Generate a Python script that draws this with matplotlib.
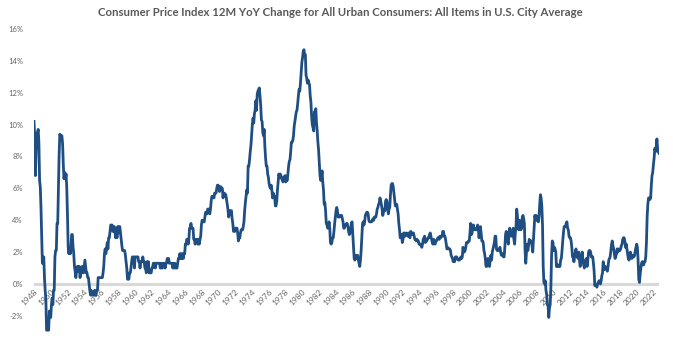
import numpy as np
import matplotlib
matplotlib.use("Agg")
import matplotlib.pyplot as plt

# CPI-U, 12M YoY % change, monthly from Jan 1948
start_year = 1948
cpi_yoy = [
    # 1948
    10.2, 9.3, 6.8, 8.3, 9.4, 9.5, 9.7, 8.9, 6.5, 6.1, 4.8, 3.0,
    # 1949
    1.3, 1.3, 1.7, 0.4, -0.4, -0.9, -2.9, -2.9, -2.4, -2.9, -1.7, -2.1,
    # 1950
    -2.1, -1.3, -0.9, -1.3, -0.4, -0.4, 1.7, 2.1, 2.1, 3.8, 3.8, 5.9,
    # 1951
    8.1, 9.4, 9.3, 9.3, 9.3, 8.8, 7.5, 6.6, 7.0, 6.6, 6.9, 6.0,
    # 1952
    4.3, 2.3, 1.9, 2.3, 1.9, 2.3, 3.1, 3.1, 2.3, 1.9, 1.1, 0.8,
    # 1953
    0.4, 0.8, 1.1, 0.8, 1.1, 1.1, 0.4, 0.7, 0.7, 1.1, 0.7, 0.7,
    # 1954
    1.1, 1.5, 1.1, 0.7, 0.7, 0.4, 0.4, 0.0, -0.4, -0.7, -0.4, -0.7,
    # 1955
    -0.7, -0.7, -0.7, -0.4, -0.7, -0.7, -0.4, -0.4, 0.4, 0.4, 0.4, 0.4,
    # 1956
    0.4, 0.4, 0.4, 0.7, 1.1, 1.9, 2.2, 1.9, 2.2, 2.6, 2.2, 2.9,
    # 1957
    2.9, 3.3, 3.7, 3.7, 3.7, 3.3, 3.3, 3.6, 3.3, 2.9, 3.3, 2.9,
    # 1958
    3.6, 3.2, 3.6, 3.6, 3.2, 2.8, 2.4, 2.1, 2.1, 2.1, 2.1, 1.8,
    # 1959
    1.4, 1.0, 0.3, 0.3, 0.3, 0.7, 0.7, 1.0, 1.4, 1.7, 1.4, 1.7,
    # 1960
    1.0, 1.7, 1.7, 1.7, 1.7, 1.7, 1.4, 1.4, 1.0, 1.4, 1.4, 1.4,
    # 1961
    1.7, 1.4, 1.4, 1.0, 1.0, 0.7, 1.4, 1.0, 1.4, 0.7, 0.7, 0.7,
    # 1962
    0.7, 1.0, 1.0, 1.3, 1.3, 1.3, 1.0, 1.3, 1.3, 1.3, 1.3, 1.3,
    # 1963
    1.3, 1.0, 1.3, 1.0, 1.0, 1.3, 1.3, 1.3, 1.0, 1.3, 1.3, 1.6,
    # 1964
    1.6, 1.6, 1.3, 1.3, 1.3, 1.3, 1.3, 1.0, 1.3, 1.0, 1.3, 1.0,
    # 1965
    1.0, 1.0, 1.3, 1.6, 1.6, 1.9, 1.6, 1.9, 1.6, 1.9, 1.6, 1.9,
    # 1966
    1.9, 2.5, 2.5, 2.8, 2.8, 2.5, 2.8, 3.5, 3.5, 3.8, 3.5, 3.5,
    # 1967
    3.5, 2.8, 2.8, 2.5, 2.8, 2.8, 2.8, 2.5, 2.8, 2.5, 2.8, 3.0,
    # 1968
    3.7, 4.0, 3.9, 3.9, 3.9, 4.2, 4.5, 4.5, 4.4, 4.7, 4.7, 4.7,
    # 1969
    4.4, 4.7, 5.2, 5.5, 5.5, 5.5, 5.4, 5.7, 5.7, 5.7, 6.0, 6.2,
    # 1970
    6.2, 6.1, 5.8, 6.1, 6.1, 6.0, 6.0, 5.4, 5.7, 5.7, 5.6, 5.6,
    # 1971
    5.3, 5.0, 4.7, 4.2, 4.4, 4.6, 4.4, 4.6, 4.1, 3.8, 3.3, 3.3,
    # 1972
    3.3, 3.5, 3.5, 3.5, 3.2, 2.7, 2.9, 2.9, 3.2, 3.4, 3.4, 3.4,
    # 1973
    3.6, 3.9, 4.6, 5.1, 5.5, 5.9, 5.7, 7.4, 7.4, 7.8, 8.3, 8.7,
    # 1974
    9.4, 10.0, 10.4, 10.1, 10.7, 10.9, 11.5, 10.9, 11.9, 12.1, 12.2, 12.3,
    # 1975
    11.8, 11.2, 10.3, 10.2, 9.5, 9.3, 9.7, 8.6, 7.9, 7.4, 7.4, 6.9,
    # 1976
    6.7, 6.3, 6.1, 6.0, 6.2, 5.9, 5.4, 5.7, 5.5, 5.5, 4.9, 4.9,
    # 1977
    5.2, 5.9, 6.4, 6.9, 6.7, 6.9, 6.8, 6.6, 6.6, 6.4, 6.7, 6.7,
    # 1978
    6.8, 6.4, 6.6, 6.5, 6.9, 7.4, 7.7, 7.8, 8.3, 8.9, 8.9, 9.0,
    # 1979
    9.3, 9.9, 10.2, 10.5, 10.8, 10.9, 11.3, 11.8, 12.2, 12.1, 12.6, 13.3,
    # 1980
    13.9, 14.2, 14.6, 14.7, 14.4, 14.4, 13.1, 12.9, 12.6, 12.8, 12.6, 12.5,
    # 1981
    11.8, 11.4, 10.5, 10.0, 9.8, 9.6, 10.8, 10.8, 11.0, 10.1, 9.6, 8.9,
    # 1982
    8.4, 7.6, 6.8, 6.5, 6.7, 7.1, 6.4, 5.9, 5.0, 5.1, 4.6, 3.8,
    # 1983
    3.7, 3.5, 3.6, 3.9, 3.5, 2.6, 2.5, 2.6, 2.9, 2.9, 3.3, 3.8,
    # 1984
    4.2, 4.6, 4.8, 4.6, 4.2, 4.2, 4.2, 4.3, 4.3, 4.3, 4.1, 3.9,
    # 1985
    3.5, 3.5, 3.7, 3.7, 3.8, 3.8, 3.6, 3.3, 3.1, 3.2, 3.5, 3.8,
    # 1986
    3.9, 3.1, 2.2, 1.6, 1.5, 1.8, 1.6, 1.6, 1.8, 1.5, 1.3, 1.1,
    # 1987
    1.5, 2.1, 3.0, 3.8, 3.9, 3.7, 3.9, 4.3, 4.4, 4.5, 4.5, 4.4,
    # 1988
    4.0, 3.9, 3.9, 3.9, 3.9, 4.0, 4.1, 4.0, 4.2, 4.2, 4.2, 4.4,
    # 1989
    4.7, 4.8, 5.0, 5.1, 5.4, 5.2, 5.0, 4.7, 4.3, 4.5, 4.7, 4.6,
    # 1990
    5.2, 5.3, 5.2, 4.7, 4.4, 4.7, 4.8, 5.6, 6.2, 6.3, 6.3, 6.1,
    # 1991
    5.7, 5.3, 4.9, 4.9, 5.0, 4.7, 4.4, 3.8, 3.4, 2.9, 3.0, 3.1,
    # 1992
    2.6, 2.8, 3.2, 3.2, 3.0, 3.1, 3.2, 3.1, 3.0, 3.2, 3.0, 2.9,
    # 1993
    3.3, 3.2, 3.1, 3.2, 3.2, 3.0, 2.8, 2.8, 2.7, 2.8, 2.7, 2.7,
    # 1994
    2.5, 2.5, 2.5, 2.4, 2.3, 2.5, 2.8, 2.9, 3.0, 2.6, 2.7, 2.7,
    # 1995
    2.8, 2.9, 2.9, 3.1, 3.2, 3.0, 2.8, 2.6, 2.5, 2.8, 2.6, 2.5,
    # 1996
    2.7, 2.7, 2.8, 2.9, 2.9, 2.8, 3.0, 2.9, 3.0, 3.0, 3.3, 3.3,
    # 1997
    3.0, 3.0, 2.8, 2.5, 2.2, 2.3, 2.2, 2.2, 2.2, 2.1, 1.8, 1.7,
    # 1998
    1.6, 1.4, 1.4, 1.4, 1.7, 1.7, 1.7, 1.6, 1.5, 1.5, 1.5, 1.6,
    # 1999
    1.7, 1.6, 1.7, 2.3, 2.1, 2.0, 2.1, 2.3, 2.6, 2.6, 2.6, 2.7,
    # 2000
    2.7, 3.2, 3.8, 3.1, 3.2, 3.7, 3.7, 3.4, 3.5, 3.4, 3.4, 3.4,
    # 2001
    3.7, 3.5, 2.9, 3.3, 3.6, 3.2, 2.7, 2.7, 2.6, 2.1, 1.9, 1.6,
    # 2002
    1.1, 1.1, 1.5, 1.6, 1.2, 1.1, 1.5, 1.8, 1.5, 2.0, 2.2, 2.4,
    # 2003
    2.6, 3.0, 3.0, 2.2, 2.1, 2.1, 2.1, 2.2, 2.3, 2.0, 1.8, 1.9,
    # 2004
    1.9, 1.7, 1.7, 2.3, 3.1, 3.3, 3.0, 2.7, 2.5, 3.2, 3.5, 3.3,
    # 2005
    3.0, 3.0, 3.1, 3.5, 2.8, 2.5, 3.2, 3.6, 4.7, 4.3, 3.5, 3.4,
    # 2006
    4.0, 3.6, 3.4, 3.5, 4.2, 4.3, 4.1, 3.8, 2.1, 1.3, 2.0, 2.5,
    # 2007
    2.1, 2.4, 2.8, 2.6, 2.7, 2.7, 2.4, 2.0, 2.8, 3.5, 4.3, 4.1,
    # 2008
    4.3, 4.0, 4.0, 3.9, 4.2, 5.0, 5.6, 5.4, 4.9, 3.7, 1.1, 0.1,
    # 2009
    0.0, 0.2, -0.4, -0.7, -1.3, -1.4, -2.1, -1.5, -1.3, -0.2, 1.8, 2.7,
    # 2010
    2.6, 2.1, 2.3, 2.2, 2.0, 1.1, 1.2, 1.1, 1.1, 1.2, 1.1, 1.5,
    # 2011
    1.6, 2.1, 2.7, 3.2, 3.6, 3.6, 3.6, 3.8, 3.9, 3.5, 3.4, 3.0,
    # 2012
    2.9, 2.9, 2.7, 2.3, 1.7, 1.7, 1.4, 1.7, 2.0, 2.2, 1.8, 1.7,
    # 2013
    1.6, 2.0, 1.5, 1.1, 1.4, 1.8, 2.0, 1.5, 1.2, 1.0, 1.2, 1.5,
    # 2014
    1.6, 1.1, 1.5, 2.0, 2.1, 2.1, 2.0, 1.7, 1.7, 1.7, 1.3, 0.8,
    # 2015
    -0.1, 0.0, -0.1, -0.2, 0.0, 0.1, 0.2, 0.2, 0.0, 0.2, 0.5, 0.7,
    # 2016
    1.4, 1.0, 0.9, 1.1, 1.0, 1.0, 0.8, 1.1, 1.5, 1.6, 1.7, 2.1,
    # 2017
    2.5, 2.7, 2.4, 2.2, 1.9, 1.6, 1.7, 1.9, 2.2, 2.0, 2.2, 2.1,
    # 2018
    2.1, 2.2, 2.4, 2.5, 2.8, 2.9, 2.9, 2.7, 2.3, 2.5, 2.2, 1.9,
    # 2019
    1.6, 1.5, 1.9, 2.0, 1.8, 1.6, 1.8, 1.7, 1.7, 1.8, 2.1, 2.3,
    # 2020
    2.5, 2.3, 1.5, 0.3, 0.1, 0.6, 1.0, 1.3, 1.4, 1.2, 1.2, 1.4,
    # 2021
    1.4, 1.7, 2.6, 4.2, 5.0, 5.4, 5.4, 5.3, 5.4, 6.2, 6.8, 7.0,
    # 2022
    7.5, 7.9, 8.5, 8.3, 8.6, 9.1, 8.5, 8.3, 8.2,
]
year_ticks = list(range(1948, 2023, 2))
pct_ticks = [-2, 0, 2, 4, 6, 8, 10, 12, 14, 16]

t = start_year + np.arange(len(cpi_yoy)) / 12.0

W, H = 673, 338
fig = plt.figure(figsize=(W / 100, H / 100), dpi=100)
ax = fig.add_axes([34 / W, 0, (659 - 34) / W, (338 - 29) / H])

grey = "#595959"
ax.axhline(0, color="#d9d9d9", lw=2.2, zorder=1)
ax.plot(t, cpi_yoy, color="#1f4e82", lw=2.0, zorder=2, solid_joinstyle="round")

ax.set_xlim(t[0], t[-1])
ax.set_ylim(-3.39, 16)

for s in ax.spines.values():
    s.set_visible(False)

ax.set_yticks(pct_ticks)
ax.set_yticklabels([f"{v}%" for v in pct_ticks], fontsize=5.5, color="#666666", family="Lato")
ax.tick_params(axis="y", length=0, pad=8)

ax.spines["bottom"].set_position(("data", 0))
ax.set_xticks(year_ticks)
ax.set_xticklabels([str(y) for y in year_ticks], rotation=45, ha="right", va="top",
                   rotation_mode="anchor", fontsize=6, color="#666666", family="Lato")
ax.tick_params(axis="x", length=0, pad=3)

fig.text(0.505, 0.962, "Consumer Price Index 12M YoY Change for All Urban Consumers: All Items in U.S. City Average",
         ha="center", va="center", fontsize=8.2, fontweight="bold", color=grey, family="Lato")

fig.savefig("out.png", dpi=100, facecolor="white")
